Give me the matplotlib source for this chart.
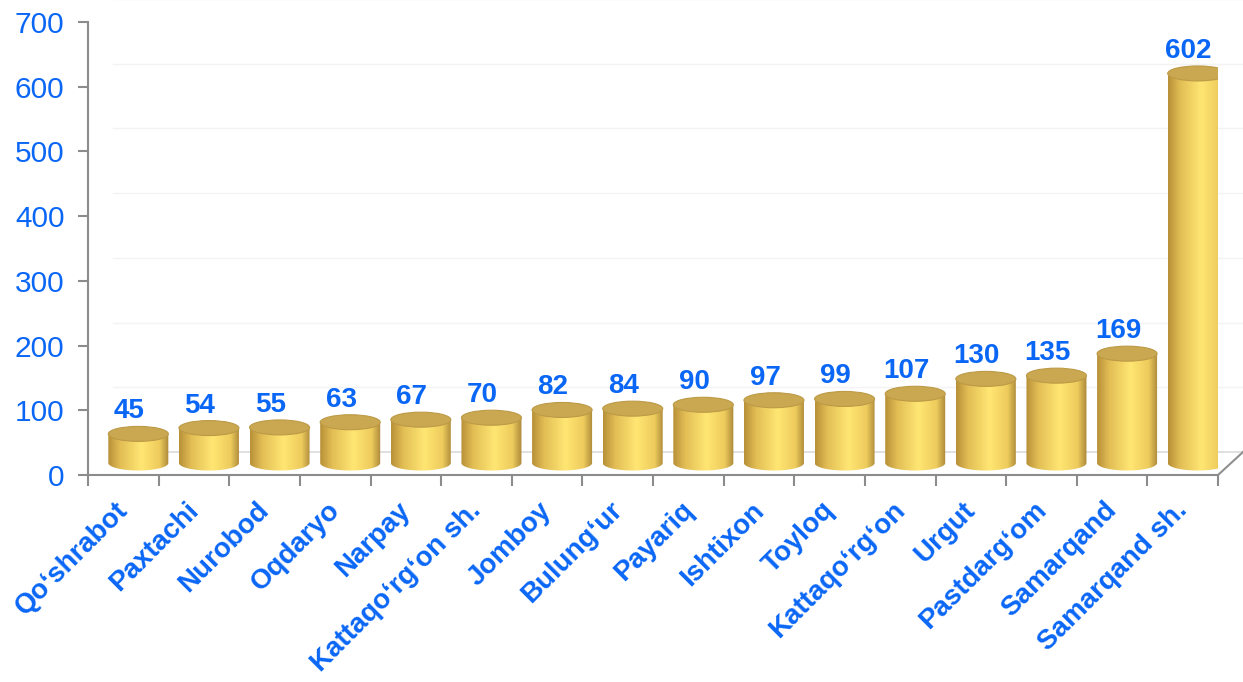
import numpy as np
import matplotlib.pyplot as plt
import matplotlib.transforms as mtransforms
from matplotlib.patches import Ellipse, Polygon
from matplotlib.colors import LinearSegmentedColormap

plt.rcParams['font.family'] = ['Liberation Sans', 'DejaVu Sans']

districts = ["Qo‘shrabot", "Paxtachi", "Nurobod", "Oqdaryo", "Narpay",
             "Kattaqo‘rg‘on sh.", "Jomboy", "Bulung‘ur", "Payariq", "Ishtixon",
             "Toyloq", "Kattaqo‘rg‘on", "Urgut", "Pastdarg‘om", "Samarqand",
             "Samarqand sh."]
counts = [45, 54, 55, 63, 67, 70, 82, 84, 90, 97, 99, 107, 130, 135, 169, 602]
yticks = [0, 100, 200, 300, 400, 500, 600, 700]

blue = "#0A66F5"
gold = LinearSegmentedColormap.from_list(
    "gold", [(0.0, "#B89038"), (0.2, "#E2BE55"), (0.55, "#FFE673"),
             (0.85, "#EDCB5C"), (1.0, "#AC883A")])

fig = plt.figure(figsize=(12.43, 6.82), dpi=100)
ax = fig.add_axes([0.0708, 0.3035, 0.9091, 0.6642])
ax.set_xlim(-0.5, 15.5)
ax.set_ylim(0, 700)

# pixel -> data conversions for the fake 3d depth
px_x = 16 / 1130.0
px_y = 700 / 453.0
dx_back, dy_back = 25 * px_x, 23 * px_y
dx_bar, dy_bar = 15 * px_x, 12 * px_y
bw = 60 * px_x
eh = 15 * px_y

# back wall gridlines and floor
for v in yticks[1:]:
    ax.plot([-0.5 + dx_back, 15.5 + dx_back], [v + dy_back] * 2,
            color="#F3F3F3", lw=1, clip_on=False, zorder=0)
ax.plot([-0.5 + dx_back, 15.5 + dx_back], [dy_back] * 2,
        color="#DADADA", lw=1.2, clip_on=False, zorder=0)
ax.plot([15.5, 15.5 + dx_back], [0, dy_back], color="#909090", lw=1.5,
        clip_on=False, zorder=1)

grad = gold(np.linspace(0, 1, 200))[None, :, :3]
t = np.linspace(np.pi, 2 * np.pi, 60)
for i, v in enumerate(counts):
    cx = i + dx_bar
    base = dy_bar
    top = base + v
    x0, x1 = cx - bw / 2, cx + bw / 2
    xs = cx + bw / 2 * np.cos(t)
    ys = base + eh / 2 * np.sin(t)
    pts = np.column_stack([np.r_[xs, x1, x0], np.r_[ys, top, top]])
    body = Polygon(pts, closed=True, fc="none", ec="none")
    ax.add_patch(body)
    im = ax.imshow(grad, extent=[x0, x1, base - eh / 2, top], aspect="auto",
                   zorder=3, interpolation="bilinear")
    im.set_clip_path(body)
    ax.add_patch(Ellipse((cx, top), bw, eh, fc="#CAA851", ec="#BC9A46",
                         lw=0.8, zorder=4))
    ax.text(i + 6 * px_x, top + eh / 2 + 2 * px_y, str(v), ha="center",
            va="bottom", color=blue, fontsize=20, fontweight="bold", zorder=5)

ax.set_xlim(-0.5, 15.5)
ax.set_ylim(0, 700)

for s in ["top", "right"]:
    ax.spines[s].set_visible(False)
for s in ["left", "bottom"]:
    ax.spines[s].set_color("#8C8C8C")
    ax.spines[s].set_linewidth(1.5)

ax.set_yticks(yticks)
ax.tick_params(axis="y", colors="#8C8C8C", length=7, width=1.5,
               labelcolor=blue, labelsize=21.5, pad=10)
ax.set_xticks(range(len(districts)))
ax.set_xticklabels(districts, rotation=45, ha="right", rotation_mode="anchor",
                   color=blue, fontsize=20, fontweight="bold")
ax.set_xticks(np.arange(-0.5, 16, 1), minor=True)
ax.tick_params(axis="x", which="major", length=0, pad=16)
ax.tick_params(axis="x", which="minor", length=8, width=1.5, color="#8C8C8C")
off = mtransforms.ScaledTranslation(-6 / 72, 0, fig.dpi_scale_trans)
for lbl in ax.get_xticklabels():
    lbl.set_transform(lbl.get_transform() + off)

fig.savefig("out.png", dpi=100, facecolor="white")
